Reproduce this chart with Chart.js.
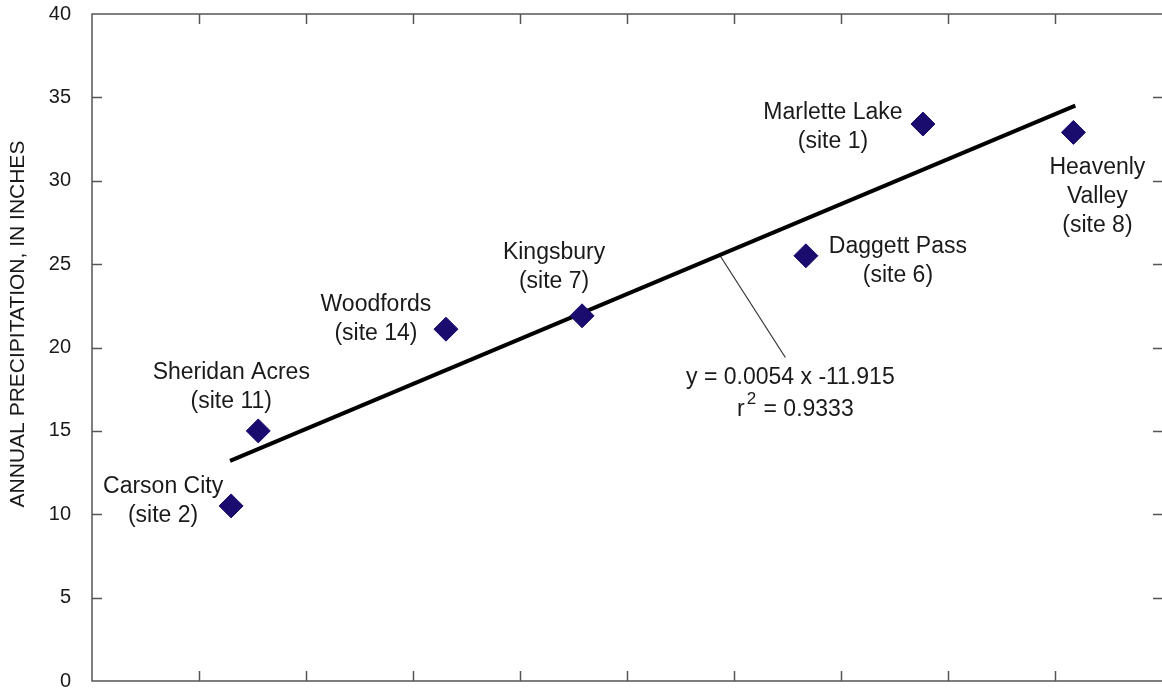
<!DOCTYPE html>
<html>
<head>
<meta charset="utf-8">
<script src="https://cdn.jsdelivr.net/npm/chart.js@4.4.1/dist/chart.umd.min.js"></script>
<style>
  html, body { margin: 0; padding: 0; background: #fff; }
  canvas { display: block; }
</style>
</head>
<body>
<canvas id="chart" width="1162" height="692"></canvas>
<script>
// site data (x = altitude in feet, y = inches)
const siteNames = ["Carson City", "Sheridan Acres", "Woodfords", "Kingsbury", "Daggett Pass", "Marlette Lake", "Heavenly\nValley"];
const siteNumbers = [2, 11, 14, 7, 6, 1, 8];
const altitude = [4650, 4777, 5654, 6290, 7336, 7883, 8586];
const precip = [10.5, 15.0, 21.1, 21.9, 25.5, 33.4, 32.9];

// regression line end points and the leader to its equation
const trendX = [4645, 8595];
const trendY = [13.2, 34.5];
const leaderX = [6935, 7240];
const leaderY = [25.5, 19.4];

const equationText = "y = 0.0054 x -11.915";
const rSquaredText = "0.9333";

const yTicks = [0, 5, 10, 15, 20, 25, 30, 35, 40];
const xTicks = [4500, 5000, 5500, 6000, 6500, 7000, 7500, 8000, 8500];

const FONT = '"Liberation Sans", Helvetica, Arial, sans-serif';
const TEXT = "#1a1a1a";
const FRAME = "#555";

// where each site label sits, relative to its marker (px)
const labelPlacement = [
  { dx: -68, dy: -19 },
  { dx: -27, dy: -58 },
  { dx: -70, dy: -25 },
  { dx: -28, dy: -63 },
  { dx: 92, dy: -9 },
  { dx: -90, dy: -11 },
  { dx: 24, dy: 35 },
];

const framePlugin = {
  id: "frame",
  beforeDatasetsDraw(chart) {
    const { ctx, chartArea: a, scales } = chart;
    const x = scales.x;
    const y = scales.y;
    ctx.save();
    ctx.strokeStyle = FRAME;
    ctx.lineWidth = 1.5;
    // frame: right edge sits just off the canvas in the original
    ctx.beginPath();
    ctx.moveTo(a.right + 2, a.top);
    ctx.lineTo(a.left, a.top);
    ctx.lineTo(a.left, a.bottom);
    ctx.lineTo(a.right + 2, a.bottom);
    ctx.stroke();

    ctx.beginPath();
    xTicks.forEach((v) => {
      const px = Math.round(x.getPixelForValue(v)) + 0.5;
      ctx.moveTo(px, a.top);
      ctx.lineTo(px, a.top + 10);
      ctx.moveTo(px, a.bottom);
      ctx.lineTo(px, a.bottom - 10);
    });
    yTicks.slice(1, -1).forEach((v) => {
      const py = Math.round(y.getPixelForValue(v)) + 0.5;
      ctx.moveTo(a.left, py);
      ctx.lineTo(a.left + 10, py);
      ctx.moveTo(a.right, py);
      ctx.lineTo(a.right - 9, py);
    });
    ctx.stroke();

    // y axis title
    ctx.translate(18, 324);
    ctx.rotate(-Math.PI / 2);
    ctx.fillStyle = TEXT;
    ctx.font = "21px " + FONT;
    ctx.textAlign = "center";
    ctx.textBaseline = "middle";
    ctx.fillText("ANNUAL PRECIPITATION, IN INCHES", 0, 0);
    ctx.restore();
  },
};

const labelPlugin = {
  id: "siteLabels",
  afterDatasetsDraw(chart) {
    const { ctx, scales } = chart;
    const x = scales.x;
    const y = scales.y;
    ctx.save();
    ctx.fillStyle = TEXT;
    ctx.font = "23px " + FONT;
    ctx.textAlign = "center";
    ctx.textBaseline = "middle";

    siteNames.forEach((name, i) => {
      const px = x.getPixelForValue(altitude[i]);
      const py = y.getPixelForValue(precip[i]);
      const p = labelPlacement[i];
      const lines = name.split("\n").concat(["(site " + siteNumbers[i] + ")"]);
      lines.forEach((t, k) => {
        ctx.fillText(t, px + p.dx, py + p.dy + k * 29);
      });
    });

    // regression equation under the leader line
    const ex = x.getPixelForValue(leaderX[1]);
    const ey = y.getPixelForValue(leaderY[1]);
    ctx.fillText(equationText, ex + 5, ey + 20);

    const rest = " = " + rSquaredText;
    const wR = ctx.measureText("r").width;
    const wRest = ctx.measureText(rest).width;
    ctx.font = "17px " + FONT;
    const w2 = ctx.measureText("2").width + 3;
    const total = wR + w2 + wRest;
    let sx = ex + 10 - total / 2;
    const sy = ey + 52;
    ctx.textAlign = "left";
    ctx.font = "23px " + FONT;
    ctx.fillText("r", sx, sy);
    sx += wR + 2;
    ctx.font = "17px " + FONT;
    ctx.fillText("2", sx, sy - 10);
    sx += w2 - 2;
    ctx.font = "23px " + FONT;
    ctx.fillText(rest, sx, sy);
    ctx.restore();
  },
};

const ctx = document.getElementById("chart").getContext("2d");

const chart = new Chart(ctx, {
  type: "scatter",
  data: {
    datasets: [
      {
        label: "Regression",
        type: "line",
        data: trendX.map((v, i) => ({ x: v, y: trendY[i] })),
        borderColor: "#000",
        borderWidth: 4,
        pointRadius: 0,
        pointHoverRadius: 0,
        fill: false,
        clip: false,
        order: 2,
      },
      {
        label: "Leader",
        type: "line",
        data: leaderX.map((v, i) => ({ x: v, y: leaderY[i] })),
        borderColor: "#333",
        borderWidth: 1.2,
        pointRadius: 0,
        pointHoverRadius: 0,
        fill: false,
        clip: false,
        order: 3,
      },
      {
        label: "Sites",
        data: altitude.map((v, i) => ({ x: v, y: precip[i] })),
        pointStyle: "rectRot",
        pointRadius: 12,
        backgroundColor: "#1a0c6e",
        borderColor: "#1a0c6e",
        borderWidth: 1,
        clip: false,
        order: 1,
      },
    ],
  },
  options: {
    responsive: false,
    animation: false,
    devicePixelRatio: 1,
    layout: {
      autoPadding: false,
      padding: { top: 14, right: 0, bottom: 11, left: 0 },
    },
    scales: {
      x: {
        type: "linear",
        min: 4000,
        max: 9000,
        display: false,
      },
      y: {
        min: 0,
        max: 40,
        afterFit: (scale) => {
          scale.width = 92;
          scale.paddingTop = 0;
          scale.paddingBottom = 0;
        },
        afterBuildTicks: (scale) => {
          scale.ticks = yTicks.map((v) => ({ value: v }));
        },
        grid: { display: false, drawTicks: false },
        border: { display: false },
        ticks: {
          color: TEXT,
          padding: 21,
          font: { family: FONT, size: 20 },
        },
      },
    },
    plugins: {
      legend: { display: false },
      tooltip: { enabled: false },
    },
  },
  plugins: [framePlugin, labelPlugin],
});
</script>
</body>
</html>
